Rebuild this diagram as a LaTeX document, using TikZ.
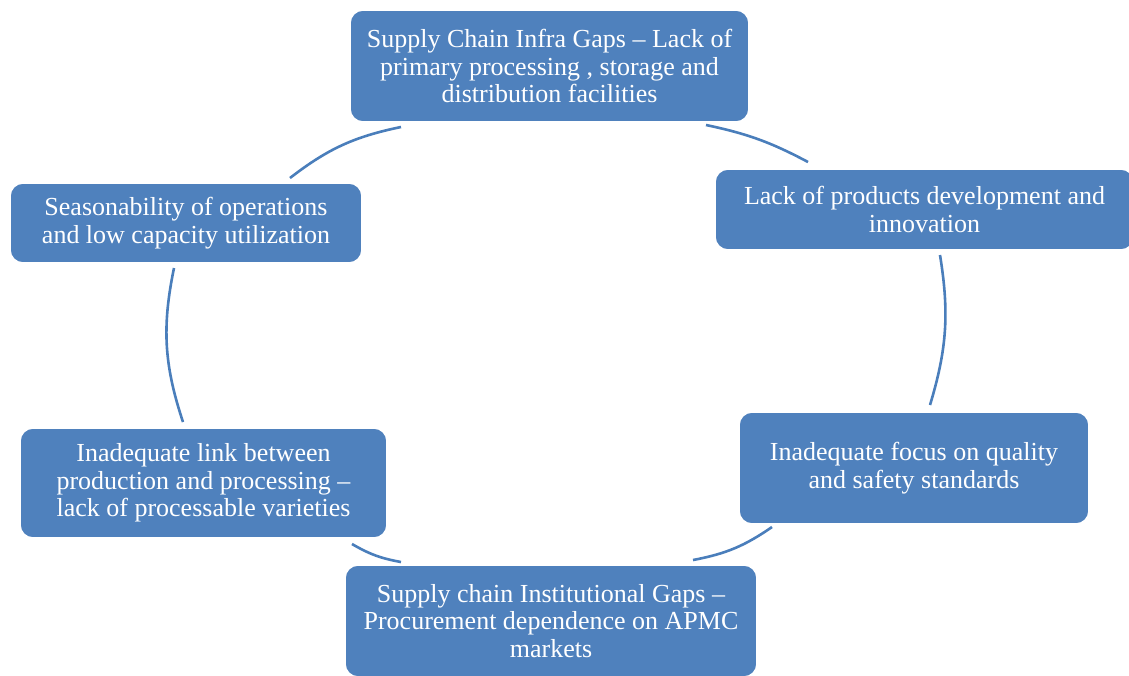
\documentclass[tikz,border=0pt]{standalone}
\usepackage{fontspec}
\setmainfont{Liberation Serif}
\definecolor{boxblue}{HTML}{4F81BD}
\definecolor{arcblue}{HTML}{4A7EBB}
\tikzset{
  gapbox/.style={rectangle, rounded corners=6.5pt, fill=boxblue, draw=white, line width=0.8pt,
    text=white, align=center, inner sep=0pt,
    font=\fontsize{13}{13.75}\selectfont},
  cyclearc/.style={draw=arcblue, line width=1.3pt}
}
\begin{document}
\begin{tikzpicture}[x=0.5pt, y=-0.5pt]
\useasboundingbox (0,0) rectangle (1129,675);
\clip (0,0) rectangle (1129,675);
% boxes
\node[gapbox, minimum width=199.5pt, minimum height=56pt] (top) at (549.5,66)
  {Supply Chain Infra Gaps -- Lack of\\primary processing , storage and\\distribution facilities};
\node[gapbox, minimum width=209.5pt, minimum height=40.5pt] (rtop) at (924.5,209.5)
  {Lack of products development and\\innovation};
\node[gapbox, minimum width=175pt, minimum height=56pt] (rbot) at (914,468)
  {Inadequate focus on quality\\and safety standards};
\node[gapbox, minimum width=206pt, minimum height=56pt] (bot) at (551,621)
  {Supply chain Institutional Gaps --\\Procurement dependence on APMC\\markets};
\node[gapbox, minimum width=183.5pt, minimum height=55pt] (lbot) at (203.5,483)
  {Inadequate link between\\production and processing --\\lack of processable varieties};
\node[gapbox, minimum width=176pt, minimum height=40pt] (left) at (186,223)
  {Seasonability of operations\\and low capacity utilization};
% arc end points
\coordinate (a1s) at (290,178);
\coordinate (a1e) at (401,127);
\coordinate (a2s) at (706,125);
\coordinate (a2e) at (808,162);
\coordinate (a3s) at (940,255);
\coordinate (a3e) at (930,405);
\coordinate (a4s) at (772,527);
\coordinate (a4e) at (693,560);
\coordinate (a5s) at (401,562);
\coordinate (a5e) at (352,544);
\coordinate (a6s) at (183,422);
\coordinate (a6e) at (174,268);
% arcs bulging outward
\draw[cyclearc] (a1s) to[bend left=13] (a1e);
\draw[cyclearc] (a2s) to[bend left=8] (a2e);
\draw[cyclearc] (a3s) to[bend left=13] (a3e);
\draw[cyclearc] (a4s) to[bend left=12] (a4e);
\draw[cyclearc] (a5s) to[bend left=10] (a5e);
\draw[cyclearc] (a6s) to[bend left=15] (a6e);
\end{tikzpicture}
\end{document}
